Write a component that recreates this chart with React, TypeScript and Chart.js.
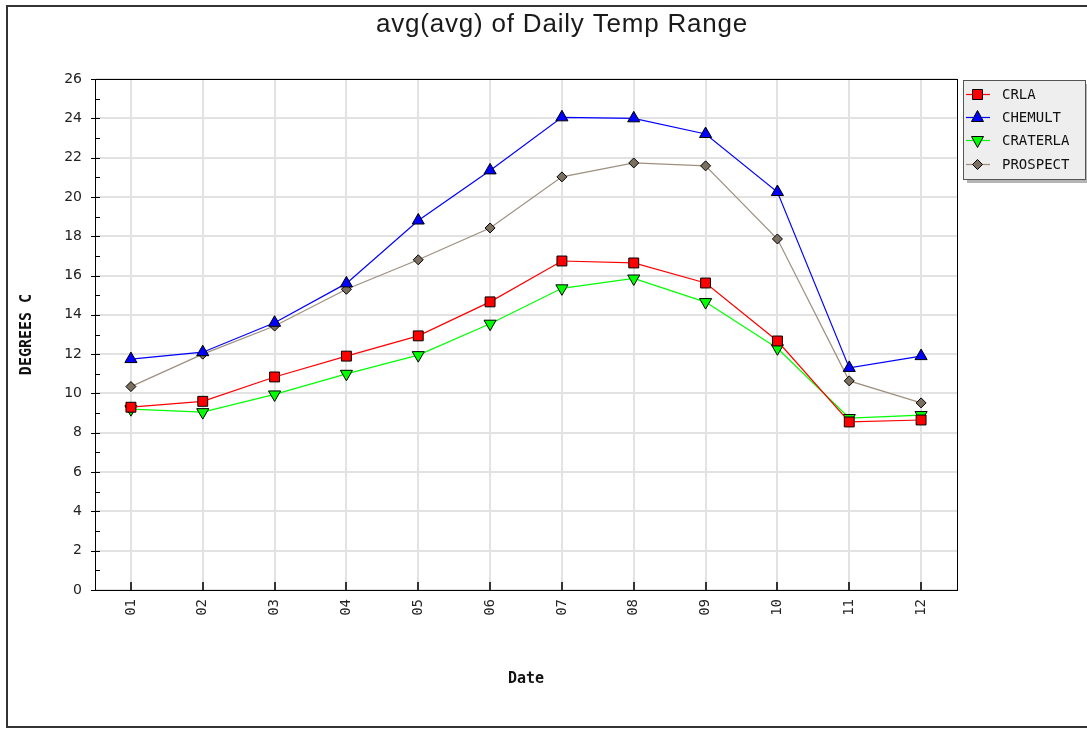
import React, { useEffect, useRef } from 'react';
import { Chart, registerables } from 'chart.js';

Chart.register(...registerables);

const titleText = 'avg(avg) of Daily Temp Range';
const xTitle = 'Date';
const yTitle = 'DEGREES C';
const months = ['01', '02', '03', '04', '05', '06', '07', '08', '09', '10', '11', '12'];
const seriesNames = ['CRLA', 'CHEMULT', 'CRATERLA', 'PROSPECT'];
const crla = [9.3, 9.6, 10.84, 11.9, 12.93, 14.66, 16.74, 16.64, 15.62, 12.67, 8.55, 8.65];
const chemult = [11.75, 12.1, 13.6, 15.6, 18.8, 21.35, 24.05, 24.0, 23.2, 20.25, 11.3, 11.9];
const craterla = [9.2, 9.05, 9.95, 11.0, 11.95, 13.55, 15.35, 15.85, 14.65, 12.3, 8.75, 8.9];
const prospect = [10.35, 12.0, 13.43, 15.3, 16.8, 18.42, 21.02, 21.73, 21.58, 17.86, 10.64, 9.52];
const yMin = 0;
const yMax = 26;
const yStep = 2;

const lineColors = ['#ff0000', '#0000ff', '#00ff00', '#9e907f'];
const fillColors = ['#ff0000', '#0000ff', '#00ff00', '#7b6f60'];
const markers = ['square', 'triUp', 'triDown', 'diamond'];

function drawMarker(ctx: CanvasRenderingContext2D, kind: string, x: number, y: number, fill: string) {
  ctx.save();
  ctx.beginPath();
  if (kind === 'square') {
    ctx.rect(x - 5, y - 5, 10, 10);
  } else if (kind === 'triUp') {
    ctx.moveTo(x, y - 7);
    ctx.lineTo(x + 6, y + 4);
    ctx.lineTo(x - 6, y + 4);
    ctx.closePath();
  } else if (kind === 'triDown') {
    ctx.moveTo(x, y + 7);
    ctx.lineTo(x + 6, y - 4);
    ctx.lineTo(x - 6, y - 4);
    ctx.closePath();
  } else {
    ctx.moveTo(x, y - 5);
    ctx.lineTo(x + 5, y);
    ctx.lineTo(x, y + 5);
    ctx.lineTo(x - 5, y);
    ctx.closePath();
  }
  ctx.fillStyle = fill;
  ctx.fill();
  ctx.lineWidth = 1;
  ctx.strokeStyle = '#000';
  ctx.stroke();
  ctx.restore();
}

const decorPlugin = {
  id: 'decor',
  beforeDraw(chart: any) {
    const ctx = chart.ctx as CanvasRenderingContext2D;
    ctx.save();
    ctx.fillStyle = '#fff';
    ctx.fillRect(0, 0, chart.width, chart.height);
    ctx.strokeStyle = '#333';
    ctx.lineWidth = 2;
    ctx.strokeRect(7, 6, 1200, 721);
    ctx.fillStyle = '#1a1a1a';
    ctx.font = '26px "Liberation Sans", Arial, sans-serif';
    (ctx as any).letterSpacing = '0.8px';
    ctx.textAlign = 'center';
    ctx.textBaseline = 'alphabetic';
    ctx.fillText(titleText, 562, 32);
    ctx.restore();
  },
  afterDraw(chart: any) {
    const ctx = chart.ctx as CanvasRenderingContext2D;
    const { left, right, top, bottom } = chart.chartArea;
    const ys = chart.scales.y;
    const xs = chart.scales.x;
    ctx.save();
    ctx.strokeStyle = '#000';
    ctx.lineWidth = 1;
    ctx.strokeRect(Math.round(left) + 0.5, Math.round(top) + 0.5, Math.round(right - left), Math.round(bottom - top));
    // y ticks (major + minor)
    for (let v = yMin; v <= yMax; v += 1) {
      const py = Math.round(ys.getPixelForValue(v)) + 0.5;
      ctx.beginPath();
      if (v % yStep === 0) {
        ctx.moveTo(left - 4, py);
      } else {
        ctx.moveTo(left, py);
      }
      ctx.lineTo(left + 5, py);
      ctx.stroke();
    }
    // x ticks
    ctx.lineWidth = 2;
    ctx.strokeStyle = '#333';
    for (let i = 0; i < months.length; i++) {
      const px = Math.round(xs.getPixelForValue(i));
      ctx.beginPath();
      ctx.moveTo(px, bottom - 8);
      ctx.lineTo(px, bottom);
      ctx.stroke();
    }
    // legend
    const lx = 963, ly = 80, lw = 122, lh = 99;
    ctx.fillStyle = '#b4b4b4';
    ctx.fillRect(lx + 4, ly + 4, lw, lh);
    ctx.fillStyle = '#eeeeee';
    ctx.fillRect(lx, ly, lw, lh);
    ctx.lineWidth = 1;
    ctx.strokeStyle = '#555';
    ctx.strokeRect(lx + 0.5, ly + 0.5, lw, lh);
    const rowY = [94, 117, 140, 164];
    ctx.font = '14px "DejaVu Sans Mono", monospace';
    ctx.textAlign = 'left';
    ctx.textBaseline = 'middle';
    for (let i = 0; i < seriesNames.length; i++) {
      const y = rowY[i] + 0.5;
      ctx.strokeStyle = lineColors[i];
      ctx.lineWidth = 1.2;
      ctx.beginPath();
      ctx.moveTo(966, y);
      ctx.lineTo(990, y);
      ctx.stroke();
      drawMarker(ctx, markers[i], 977.5, y, fillColors[i]);
      ctx.fillStyle = '#111';
      ctx.fillText(seriesNames[i], 1002, rowY[i] + 1);
    }
    ctx.restore();
  },
};

const seriesData = [crla, chemult, craterla, prospect];
const pointStyles: any[] = ['rect', 'triangle', 'triangle', 'rectRot'];
const pointRotations = [0, 0, 180, 0];
const pointRadii = [7, 7, 7, 5];

export default function App() {
  const ref = useRef<HTMLCanvasElement | null>(null);
  useEffect(() => {
    if (!ref.current) return;
    const chart = new Chart(ref.current, {
      type: 'line',
      data: {
        labels: months,
        datasets: seriesNames.map((name, i) => ({
          label: name,
          data: seriesData[i],
          borderColor: lineColors[i],
          backgroundColor: fillColors[i],
          borderWidth: 1.2,
          tension: 0,
          pointStyle: pointStyles[i],
          rotation: pointRotations[i],
          pointRadius: pointRadii[i],
          pointBackgroundColor: fillColors[i],
          pointBorderColor: '#000',
          pointBorderWidth: 1,
        })),
      },
      options: {
        animation: false,
        responsive: false,
        layout: { padding: { left: 0, top: 79, right: 130, bottom: 0 } },
        plugins: {
          legend: { display: false },
          title: { display: false },
          tooltip: { enabled: false },
        },
        scales: {
          x: {
            type: 'category',
            offset: true,
            afterFit: (s: any) => { s.height = 139; },
            grid: { color: '#e2e2e2', lineWidth: 2, drawTicks: false, offset: false },
            border: { display: true, color: '#000', width: 1 },
            ticks: {
              minRotation: 90,
              maxRotation: 90,
              padding: 9,
              color: '#222',
              font: { family: '"DejaVu Sans Mono", monospace', size: 14 },
            },
            title: {
              display: true,
              text: xTitle,
              color: '#111',
              font: { family: '"DejaVu Sans Mono", monospace', size: 15, weight: 'bold' },
              padding: { top: 0, bottom: 41 },
            },
          },
          y: {
            type: 'linear',
            min: yMin,
            max: yMax,
            afterFit: (s: any) => { s.width = 95; },
            grid: { color: '#e2e2e2', lineWidth: 2, drawTicks: false },
            border: { display: true, color: '#000', width: 1 },
            ticks: {
              stepSize: yStep,
              padding: 13,
              color: '#222',
              font: { family: '"DejaVu Sans", sans-serif', size: 14 },
            },
            title: {
              display: true,
              text: yTitle,
              color: '#111',
              font: { family: '"DejaVu Sans Mono", monospace', size: 15, weight: 'bold' },
              padding: { top: 18, bottom: 0 },
            },
          },
        },
      },
      plugins: [decorPlugin],
    });
    return () => chart.destroy();
  }, []);
  return (
    <div style={{ position: 'fixed', left: 0, top: 0, width: 1087, height: 729 }}>
      <canvas ref={ref} width={1087} height={729} style={{ width: 1087, height: 729, display: 'block' }} />
    </div>
  );
}
